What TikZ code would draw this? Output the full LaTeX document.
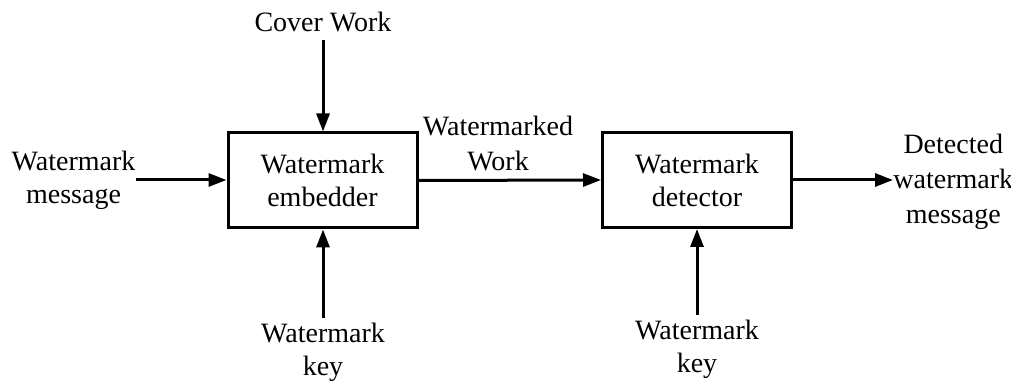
\documentclass[tikz,border=0pt]{standalone}
\usepackage{fontspec}
\setmainfont{Liberation Serif}
\usetikzlibrary{arrows.meta}
\begin{document}
\begin{tikzpicture}[x=0.5pt,y=-0.5pt,
  every node/.style={font=\fontsize{14pt}{16.5pt}\selectfont, align=center},
  wide/.style={font=\fontsize{14pt}{17.5pt}\selectfont},
  block/.style={draw, line width=1.5pt, minimum width=94.5pt, minimum height=47.5pt, inner sep=0pt},
  txt/.style={inner sep=0pt},
  flow/.style={line width=1.5pt, -{Triangle[length=9pt,width=6.5pt]}}]
\useasboundingbox (0,0) rectangle (1011,383);

% processing blocks
\node[block] (emb) at (322.5,180.5) {Watermark\\embedder};
\node[block] (det) at (697,180) {Watermark\\detector};

% inputs and outputs
\node[txt, anchor=south, inner sep=4pt] (cover) at (323,40) {Cover Work};
\node[txt, anchor=north, inner sep=2.5pt] (key1) at (323,318) {Watermark\\key};
\node[txt, anchor=north, inner sep=2.5pt] (key2) at (697,315) {Watermark\\key};
\node[txt] (msg) at (73.5,180) {Watermark\\message};
\node[txt, wide] (wmw) at (498,144) {Watermarked\\Work};
\node[txt, wide, anchor=west] (out) at (893,182) {Detected\\watermark\\message};

% connectors
\draw[flow] (cover.south) -- (cover.south |- emb.north);
\draw[flow] (key1.north) -- (key1.north |- emb.south);
\draw[flow] (key2.north) -- (key2.north |- det.south);
\draw[flow] (msg.east) -- (msg.east -| emb.west);
\draw[flow] (emb.east) -- (det.west);
\draw[flow] (det.east) -- (det.east -| out.west);
\end{tikzpicture}
\end{document}
